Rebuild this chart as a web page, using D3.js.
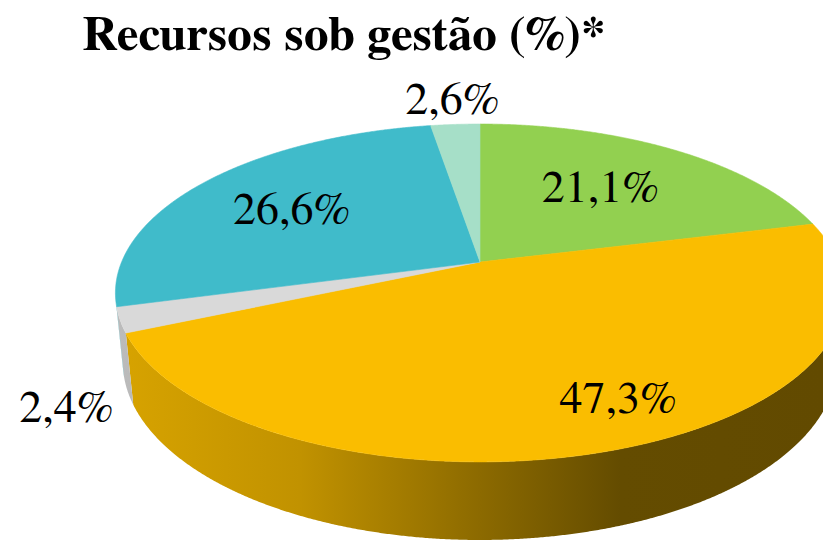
<!DOCTYPE html>
<html><head><meta charset="utf-8">
<script src="https://cdn.jsdelivr.net/npm/d3@7"></script>
<style>body{margin:0;background:#fff}</style></head>
<body>
<svg id="c" width="823" height="544"></svg>
<script>
// ---- data ----
const categories = ["Fatia 1", "Fatia 2", "Fatia 3", "Fatia 4", "Fatia 5"];
const values = [21.1, 47.3, 2.4, 26.6, 2.6];
const valueLabels = ["21,1%", "47,3%", "2,4%", "26,6%", "2,6%"];
const title = "Recursos sob gestão (%)*";

// ---- style / layout ----
const colors = ["#92d050", "#fabd00", "#d9d9d9", "#40bbca", "#a6dfc8"];
const labelLayout = [[0.63, -2.3], [0.79, -6.2], [1.25, -17.9], [0.66, -0.7], [1.235, 0.3]];
const FONT = 'FreeSerif, "Liberation Serif", serif';

const svg = d3.select("#c");
const defs = svg.append("defs");
const cx = 480, cy = 262;
const sa = 0.451, ca = Math.sqrt(1 - sa * sa);
const L = 4.869, fx = 1745, fy = 1762.6, depth = 0.2144;

function proj(x, y, z) {
  const zc = L - y * sa + z * ca;
  return [cx + fx * x / zc, cy - fy * (y * ca + z * sa) / zc];
}
function pt(t, r, y) { return proj(r * Math.sin(t), y, r * Math.cos(t)); }

const arcs = d3.pie().sort(null).value(d => d)(values);
const shadeX = [120, 300, 480, 620, 823];
const shadeK = [0.86, 0.77, 0.56, 0.40, 0.39];
const line = d3.line();
const step = Math.PI / 720;

// visible wall range (outward normal facing the camera)
const tv = Math.acos(-1 / (L * ca));
const visA = tv, visB = 2 * Math.PI - tv;

arcs.forEach((a, i) => {
  const s = Math.max(a.startAngle, visA), e = Math.min(a.endAngle, visB);
  if (e <= s) return;
  const c = d3.rgb(colors[i]);
  const g = defs.append("linearGradient").attr("id", "w" + i)
    .attr("gradientUnits", "userSpaceOnUse").attr("x1", 0).attr("x2", 823).attr("y1", 0).attr("y2", 0);
  shadeX.forEach((x, j) => {
    const k = shadeK[j];
    g.append("stop").attr("offset", x / 823).attr("stop-color", d3.rgb(c.r * k, c.g * k, c.b * k).formatHex());
  });
  const top = [], bot = [];
  for (let t = s; t < e; t += step) { top.push(pt(t, 1, 0)); bot.push(pt(t, 1, -depth)); }
  top.push(pt(e, 1, 0)); bot.push(pt(e, 1, -depth));
  svg.append("path").attr("d", line(top.concat(bot.reverse())) + "Z").attr("fill", `url(#w${i})`);
});

// top faces
svg.append("g").selectAll("path").data(arcs).join("path")
  .attr("d", a => {
    const pts = [[cx, cy]];
    for (let t = a.startAngle; t < a.endAngle; t += step) pts.push(pt(t, 1, 0));
    pts.push(pt(a.endAngle, 1, 0));
    return line(pts) + "Z";
  })
  .attr("fill", (a, i) => colors[i])
  .attr("stroke", (a, i) => colors[i])
  .attr("stroke-width", 0.6)
  .attr("stroke-linejoin", "round");

// labels
function labelPos(a, i) {
  return pt((a.startAngle + a.endAngle) / 2 + labelLayout[i][1] * Math.PI / 180, labelLayout[i][0], 0);
}
svg.append("g").selectAll("text").data(arcs).join("text")
  .attr("x", (a, i) => labelPos(a, i)[0])
  .attr("y", (a, i) => labelPos(a, i)[1])
  .attr("dy", "0.35em")
  .attr("text-anchor", "middle")
  .style("font-family", FONT)
  .attr("font-size", 46)
  .attr("fill", "#000")
  .text((a, i) => valueLabels[i]);

// title
svg.append("text")
  .attr("x", 344).attr("y", 50)
  .attr("text-anchor", "middle")
  .style("font-family", FONT)
  .attr("font-weight", "bold")
  .attr("font-size", 49)
  .attr("fill", "#000")
  .text(title);
</script>
</body></html>
